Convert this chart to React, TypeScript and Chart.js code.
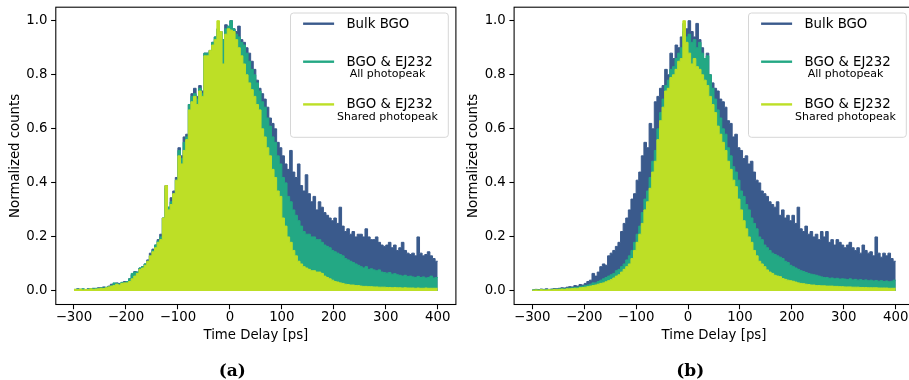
import React, { useEffect, useRef } from "react";
import { Chart, registerables } from "chart.js";

Chart.register(...registerables);

// ---------- data ----------
const BIN_START = -300; // ps, left edge of first bin
const BIN_WIDTH = 5; // ps
const X_TICKS = [-300, -200, -100, 0, 100, 200, 300, 400];
const Y_TICKS = [0, 0.2, 0.4, 0.6, 0.8, 1.0];
const LABELS = ["Bulk BGO", "BGO & EJ232", "BGO & EJ232"];
const SUBLABELS = ["", "All photopeak", "Shared photopeak"];
const COLORS = ["#3a5a8c", "#23a884", "#bddf26"];
const CAPTIONS = ["(a)", "(b)"];
const X_TITLE = "Time Delay [ps]";
const Y_TITLE = "Normalized counts";

// Panel (a)
const bulkA = [
  0.005, 0.008, 0.006, 0.007, 0.005, 0.008, 0.006, 0.01, 0.007, 0.012,
  0.012, 0.015, 0.01, 0.018, 0.025, 0.02, 0.03, 0.028, 0.025, 0.035,
  0.035, 0.045, 0.06, 0.072, 0.07, 0.085, 0.09, 0.1, 0.115, 0.14,
  0.155, 0.17, 0.19, 0.21, 0.27, 0.39, 0.31, 0.345, 0.37, 0.42,
  0.53, 0.5, 0.57, 0.58, 0.69, 0.73, 0.75, 0.72, 0.76, 0.74,
  0.88, 0.88, 0.89, 0.92, 0.94, 0.97, 0.96, 0.93, 0.985, 0.97,
  1.0, 0.97, 0.96, 0.98, 0.93, 0.92, 0.9, 0.88, 0.85, 0.82,
  0.78, 0.75, 0.73, 0.71, 0.68, 0.64, 0.62, 0.6, 0.55, 0.53,
  0.5, 0.47, 0.45, 0.52, 0.44, 0.42, 0.47, 0.39, 0.37, 0.43,
  0.36, 0.33, 0.35, 0.3, 0.33, 0.31, 0.29, 0.28, 0.27, 0.26,
  0.27, 0.25, 0.31, 0.24, 0.22, 0.23, 0.21, 0.22, 0.2, 0.21,
  0.21, 0.2, 0.23, 0.2, 0.19, 0.19, 0.2, 0.18, 0.17, 0.165,
  0.17, 0.18, 0.16, 0.17, 0.15, 0.16, 0.18, 0.15, 0.14, 0.135,
  0.14, 0.13, 0.2, 0.14, 0.13, 0.135, 0.145, 0.13, 0.12, 0.11,
];
const allA = [
  0.006, 0.007, 0.006, 0.008, 0.005, 0.007, 0.009, 0.008, 0.01, 0.009,
  0.012, 0.011, 0.014, 0.016, 0.02, 0.03, 0.028, 0.025, 0.032, 0.03,
  0.035, 0.045, 0.065, 0.07, 0.07, 0.085, 0.09, 0.1, 0.11, 0.13,
  0.15, 0.17, 0.185, 0.2, 0.27, 0.38, 0.31, 0.33, 0.36, 0.41,
  0.52, 0.49, 0.55, 0.57, 0.69, 0.72, 0.73, 0.71, 0.75, 0.73,
  0.88, 0.88, 0.89, 0.92, 0.94, 0.97, 0.96, 0.93, 0.97, 0.98,
  1.0, 0.97, 0.95, 0.94, 0.92, 0.91, 0.88, 0.85, 0.82, 0.8,
  0.77, 0.74, 0.7, 0.68, 0.64, 0.61, 0.57, 0.55, 0.5, 0.47,
  0.42, 0.4, 0.35, 0.33, 0.3, 0.28, 0.26, 0.24, 0.22, 0.21,
  0.21, 0.2, 0.2, 0.19, 0.19, 0.18, 0.17, 0.165, 0.16, 0.15,
  0.145, 0.14, 0.135, 0.13, 0.12, 0.115, 0.11, 0.105, 0.1, 0.095,
  0.09, 0.085, 0.09, 0.08, 0.082, 0.078, 0.075, 0.078, 0.07, 0.068,
  0.066, 0.068, 0.062, 0.064, 0.06, 0.058, 0.055, 0.058, 0.054, 0.055,
  0.052, 0.05, 0.054, 0.05, 0.052, 0.048, 0.05, 0.055, 0.048, 0.05,
];
const sharedA = [
  0.006, 0.005, 0.007, 0.004, 0.006, 0.005, 0.008, 0.006, 0.007, 0.008,
  0.01, 0.009, 0.012, 0.015, 0.018, 0.02, 0.025, 0.022, 0.028, 0.03,
  0.03, 0.035, 0.045, 0.055, 0.065, 0.08, 0.085, 0.095, 0.11, 0.13,
  0.145, 0.16, 0.18, 0.19, 0.27, 0.39, 0.3, 0.32, 0.36, 0.41,
  0.5, 0.47, 0.52, 0.56, 0.67, 0.7, 0.72, 0.69, 0.74, 0.72,
  0.87, 0.87, 0.89, 0.91, 0.93, 1.0, 0.96, 0.84, 0.95, 0.97,
  0.965, 0.96, 0.93, 0.9, 0.87, 0.84, 0.8, 0.77, 0.745, 0.72,
  0.69, 0.67, 0.6, 0.57, 0.53, 0.5, 0.45, 0.42, 0.37, 0.35,
  0.27, 0.24, 0.2, 0.18, 0.15, 0.13, 0.11, 0.1, 0.09, 0.085,
  0.08, 0.075, 0.075, 0.07, 0.07, 0.065, 0.055, 0.05, 0.045, 0.04,
  0.035, 0.033, 0.03, 0.028, 0.025, 0.024, 0.022, 0.022, 0.02, 0.02,
  0.018, 0.017, 0.017, 0.016, 0.016, 0.015, 0.015, 0.014, 0.014, 0.014,
  0.013, 0.013, 0.012, 0.013, 0.012, 0.012, 0.011, 0.012, 0.011, 0.011,
  0.011, 0.01, 0.011, 0.01, 0.01, 0.011, 0.01, 0.01, 0.01, 0.01,
];

// Panel (b)
const bulkB = [
  0.004, 0.006, 0.005, 0.007, 0.006, 0.008, 0.006, 0.007, 0.009, 0.008,
  0.01, 0.012, 0.011, 0.014, 0.016, 0.015, 0.02, 0.018, 0.024, 0.022,
  0.028, 0.035, 0.04, 0.065, 0.055, 0.07, 0.09, 0.1, 0.095, 0.13,
  0.14, 0.15, 0.165, 0.18, 0.22, 0.25, 0.27, 0.3, 0.34, 0.36,
  0.41, 0.44, 0.5, 0.55, 0.53, 0.62, 0.6, 0.7, 0.72, 0.75,
  0.76, 0.82, 0.8, 0.88, 0.86, 0.91, 0.9, 0.94, 0.96, 0.97,
  1.0, 0.96, 0.94, 0.99, 0.93, 0.9, 0.85, 0.88, 0.8, 0.77,
  0.75, 0.74, 0.71, 0.7, 0.68, 0.63, 0.62, 0.57, 0.58, 0.53,
  0.52, 0.49, 0.5, 0.47, 0.48, 0.44, 0.41, 0.4, 0.37, 0.36,
  0.35, 0.33, 0.32, 0.31, 0.33, 0.28, 0.3, 0.27, 0.28, 0.26,
  0.28, 0.25, 0.31, 0.23, 0.22, 0.24, 0.21, 0.22, 0.2, 0.21,
  0.19, 0.22, 0.2, 0.22, 0.18, 0.19, 0.17, 0.19, 0.18, 0.17,
  0.16, 0.17, 0.18, 0.16, 0.15, 0.16, 0.14, 0.17, 0.15, 0.14,
  0.145, 0.13, 0.2, 0.14, 0.125, 0.14, 0.13, 0.14, 0.12, 0.11,
];
const allB = [
  0.004, 0.005, 0.004, 0.006, 0.005, 0.006, 0.005, 0.006, 0.007, 0.006,
  0.008, 0.009, 0.008, 0.01, 0.011, 0.012, 0.013, 0.014, 0.016, 0.018,
  0.02, 0.022, 0.025, 0.03, 0.03, 0.035, 0.04, 0.045, 0.05, 0.055,
  0.06, 0.065, 0.075, 0.08, 0.09, 0.1, 0.115, 0.13, 0.15, 0.18,
  0.21, 0.24, 0.29, 0.34, 0.37, 0.42, 0.48, 0.52, 0.6, 0.66,
  0.71, 0.76, 0.78, 0.82, 0.83, 0.86, 0.88, 0.9, 0.99, 0.94,
  0.95, 0.92, 0.93, 0.9, 0.92, 0.88, 0.86, 0.87, 0.8, 0.75,
  0.71, 0.67, 0.64, 0.6, 0.58, 0.53, 0.5, 0.46, 0.44, 0.41,
  0.37, 0.35, 0.32, 0.3, 0.27, 0.25, 0.23, 0.2, 0.19, 0.17,
  0.16, 0.15, 0.14, 0.135, 0.13, 0.125, 0.12, 0.11, 0.105, 0.095,
  0.09, 0.085, 0.08, 0.075, 0.072, 0.068, 0.065, 0.062, 0.06, 0.058,
  0.055, 0.052, 0.05, 0.05, 0.047, 0.048, 0.045, 0.047, 0.044, 0.045,
  0.044, 0.042, 0.045, 0.041, 0.043, 0.04, 0.042, 0.039, 0.041, 0.038,
  0.04, 0.037, 0.039, 0.036, 0.038, 0.035, 0.037, 0.034, 0.036, 0.04,
];
const sharedB = [
  0.003, 0.004, 0.003, 0.005, 0.004, 0.004, 0.005, 0.004, 0.006, 0.005,
  0.006, 0.007, 0.006, 0.008, 0.008, 0.009, 0.01, 0.01, 0.012, 0.013,
  0.014, 0.016, 0.018, 0.02, 0.022, 0.025, 0.028, 0.03, 0.034, 0.038,
  0.042, 0.048, 0.055, 0.06, 0.07, 0.08, 0.09, 0.1, 0.12, 0.15,
  0.18, 0.21, 0.25, 0.3, 0.33, 0.38, 0.44, 0.48, 0.56, 0.63,
  0.68, 0.74, 0.75, 0.79, 0.8, 0.82, 0.85, 0.86, 1.0, 0.92,
  0.88, 0.84, 0.86, 0.83, 0.82, 0.8, 0.78, 0.76, 0.72, 0.69,
  0.66, 0.61, 0.58, 0.55, 0.52, 0.48, 0.45, 0.41, 0.386, 0.34,
  0.3, 0.26, 0.23, 0.2, 0.18, 0.15, 0.13, 0.11, 0.1, 0.09,
  0.078, 0.07, 0.065, 0.058, 0.055, 0.053, 0.046, 0.043, 0.04, 0.038,
  0.036, 0.033, 0.03, 0.028, 0.027, 0.025, 0.024, 0.022, 0.022, 0.02,
  0.02, 0.019, 0.019, 0.018, 0.018, 0.018, 0.017, 0.017, 0.016, 0.016,
  0.015, 0.015, 0.015, 0.014, 0.014, 0.014, 0.013, 0.013, 0.013, 0.012,
  0.012, 0.012, 0.012, 0.011, 0.011, 0.011, 0.011, 0.01, 0.01, 0.01,
];

// ---------- helpers ----------
const FONT = "'DejaVu Sans', 'Noto Sans', sans-serif";
const FS = 13.3;

function steps(values: number[]) {
  const pts = values.map((v, i) => ({ x: BIN_START + i * BIN_WIDTH, y: v }));
  pts.push({ x: BIN_START + values.length * BIN_WIDTH, y: values[values.length - 1] });
  return pts;
}

function fmtX(v: number) {
  return v < 0 ? "\u2212" + Math.abs(v) : String(v);
}

const framePlugin = {
  id: "frameAndLegend",
  afterDraw(chart: any) {
    const ctx = chart.ctx as CanvasRenderingContext2D;
    const { left, right, top, bottom } = chart.chartArea;
    ctx.save();
    ctx.strokeStyle = "#000";
    ctx.lineWidth = 1.07;
    ctx.strokeRect(left, top, right - left, bottom - top);

    // legend
    const bw = 157.8;
    const bh = 124.3;
    const bx = right - 7.6 - bw;
    const by = top + 5.8;
    const r = 3;
    ctx.beginPath();
    ctx.moveTo(bx + r, by);
    ctx.lineTo(bx + bw - r, by);
    ctx.arcTo(bx + bw, by, bx + bw, by + r, r);
    ctx.lineTo(bx + bw, by + bh - r);
    ctx.arcTo(bx + bw, by + bh, bx + bw - r, by + bh, r);
    ctx.lineTo(bx + r, by + bh);
    ctx.arcTo(bx, by + bh, bx, by + bh - r, r);
    ctx.lineTo(bx, by + r);
    ctx.arcTo(bx, by, bx + r, by, r);
    ctx.closePath();
    ctx.fillStyle = "rgba(255,255,255,0.8)";
    ctx.fill();
    ctx.strokeStyle = "#d6d6d6";
    ctx.lineWidth = 1;
    ctx.stroke();

    const handleY = [10.7, 48.7, 91.4];
    const textY = [11.8, 49.4, 91.8];
    const subY = [0, 60.9, 104.2];
    for (let i = 0; i < 3; i++) {
      ctx.strokeStyle = COLORS[i];
      ctx.lineWidth = 2.4;
      ctx.beginPath();
      ctx.moveTo(bx + 12.6, by + handleY[i]);
      ctx.lineTo(bx + 43.6, by + handleY[i]);
      ctx.stroke();
      ctx.fillStyle = "#000";
      ctx.textBaseline = "middle";
      ctx.textAlign = "left";
      ctx.font = `${FS}px ${FONT}`;
      ctx.fillText(LABELS[i], bx + 56, by + textY[i]);
      if (SUBLABELS[i]) {
        ctx.font = `11px ${FONT}`;
        ctx.textAlign = "center";
        ctx.fillText(SUBLABELS[i], bx + 97, by + subY[i]);
      }
    }
    ctx.restore();
  },
};

type PanelProps = {
  series: number[][];
  left: number;
  width: number;
  yWidth: number;
  rightPad: number;
  yTitlePad: number;
};

function Panel({ series, left, width, yWidth, rightPad, yTitlePad }: PanelProps) {
  const ref = useRef<HTMLCanvasElement>(null);
  useEffect(() => {
    if (!ref.current) return;
    const tickFont = { family: FONT, size: FS };
    const grid = {
      display: true,
      drawOnChartArea: false,
      drawTicks: true,
      tickLength: 4.7,
      tickWidth: 1.07,
      tickColor: "#000",
    };
    const chart = new Chart(ref.current, {
      type: "line",
      data: {
        datasets: series.map((vals, i) => ({
          label: LABELS[i],
          data: steps(vals),
          stepped: "before" as const,
          borderColor: COLORS[i],
          backgroundColor: COLORS[i],
          borderWidth: 1,
          fill: "origin",
          pointRadius: 0,
          tension: 0,
          order: 3 - i,
        })),
      },
      options: {
        animation: false,
        responsive: false,
        maintainAspectRatio: false,
        devicePixelRatio: 1,
        layout: { padding: { left: 0, right: rightPad, top: 7.2, bottom: 0 } },
        plugins: { legend: { display: false }, tooltip: { enabled: false } },
        scales: {
          x: {
            type: "linear",
            min: -335,
            max: 435,
            afterBuildTicks: (s: any) => {
              s.ticks = X_TICKS.map((v) => ({ value: v }));
            },
            afterFit: (s: any) => {
              s.height = 75.5;
              s.paddingLeft = 0;
              s.paddingRight = 0;
            },
            ticks: {
              autoSkip: false,
              maxRotation: 0,
              minRotation: 0,
              padding: 0,
              color: "#000",
              font: tickFont,
              callback: (v: any) => fmtX(Number(v)),
            },
            grid,
            border: { display: false },
            title: {
              display: true,
              text: X_TITLE,
              color: "#000",
              font: tickFont,
              padding: { top: 0, bottom: 36.5 },
            },
          },
          y: {
            type: "linear",
            min: -0.05,
            max: 1.05,
            afterBuildTicks: (s: any) => {
              s.ticks = Y_TICKS.map((v) => ({ value: v }));
            },
            afterFit: (s: any) => {
              s.width = yWidth;
              s.paddingTop = 0;
              s.paddingBottom = 0;
            },
            ticks: {
              autoSkip: false,
              padding: 3.6,
              color: "#000",
              font: tickFont,
              callback: (v: any) => Number(v).toFixed(1),
            },
            grid,
            border: { display: false },
            title: {
              display: true,
              text: Y_TITLE,
              color: "#000",
              font: tickFont,
              padding: { top: yTitlePad, bottom: 0 },
            },
          },
        },
      } as any,
      plugins: [framePlugin],
    });
    return () => chart.destroy();
  }, [series, left, width, yWidth, rightPad, yTitlePad]);
  return (
    <canvas
      ref={ref}
      width={width}
      height={380}
      style={{ position: "absolute", left, top: 0, width, height: 380 }}
    />
  );
}

const SERIES_A = [bulkA, allA, sharedA];
const SERIES_B = [bulkB, allB, sharedB];

export default function App() {
  const captionStyle = (cx: number): React.CSSProperties => ({
    position: "absolute",
    left: cx - 50,
    width: 100,
    top: 359.5,
    lineHeight: "20px",
    textAlign: "center",
    fontFamily: "'DejaVu Serif', 'Liberation Serif', serif",
    fontWeight: "bold",
    fontSize: 17,
    color: "#000",
  });
  return (
    <div
      style={{
        position: "absolute",
        left: 0,
        top: 0,
        width: 909,
        height: 380,
        overflow: "hidden",
        background: "#fff",
      }}
    >
      <Panel series={SERIES_A} left={0} width={460} yWidth={55.8} rightPad={4.1} yTitlePad={7.3} />
      <Panel series={SERIES_B} left={455} width={465} yWidth={59.1} rightPad={6.1} yTitlePad={10.3} />
      <div style={captionStyle(232.3)}>{CAPTIONS[0]}</div>
      <div style={captionStyle(690.3)}>{CAPTIONS[1]}</div>
    </div>
  );
}
